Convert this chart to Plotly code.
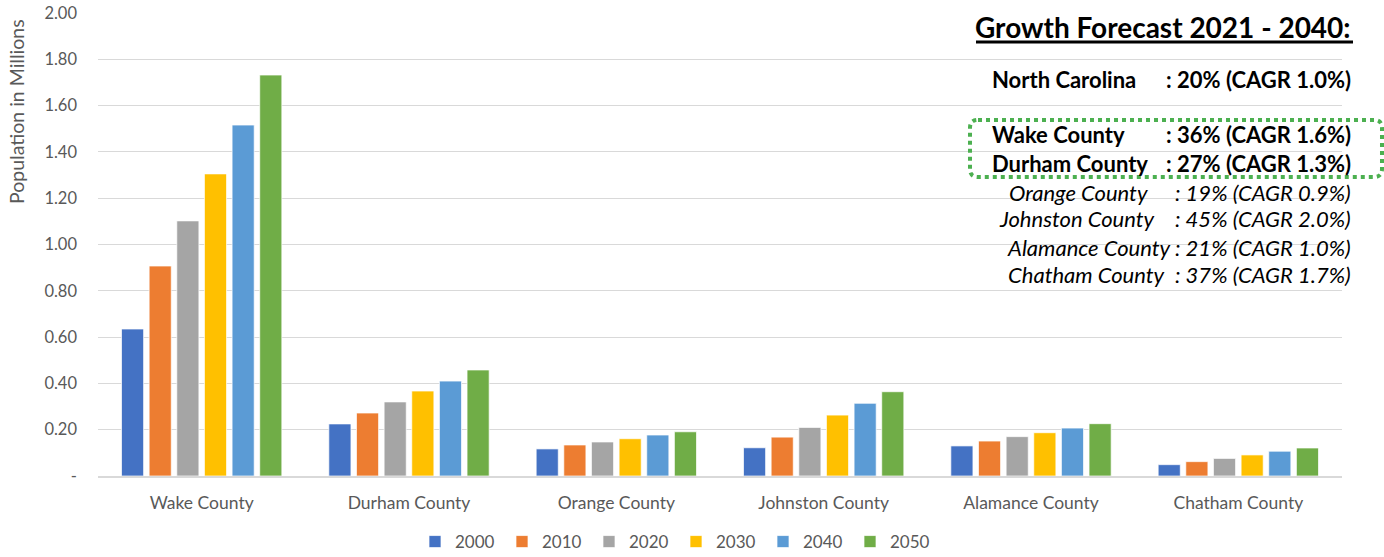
import plotly.graph_objects as go

counties = ["Wake County", "Durham County", "Orange County", "Johnston County", "Alamance County", "Chatham County"]
years = ["2000", "2010", "2020", "2030", "2040", "2050"]
pop_2000 = [0.635, 0.225, 0.117, 0.122, 0.130, 0.049]
pop_2010 = [0.907, 0.272, 0.134, 0.168, 0.151, 0.062]
pop_2020 = [1.102, 0.320, 0.147, 0.210, 0.170, 0.076]
pop_2030 = [1.305, 0.367, 0.161, 0.263, 0.187, 0.091]
pop_2040 = [1.516, 0.410, 0.177, 0.314, 0.207, 0.107]
pop_2050 = [1.732, 0.458, 0.191, 0.364, 0.226, 0.121]
series = [pop_2000, pop_2010, pop_2020, pop_2030, pop_2040, pop_2050]
colors = ["#4472C4", "#ED7D31", "#A5A5A5", "#FFC000", "#5B9BD5", "#70AD47"]

y_tickvals = [0, 0.2, 0.4, 0.6, 0.8, 1.0, 1.2, 1.4, 1.6, 1.8, 2.0]
y_ticktext = ["-", "0.20", "0.40", "0.60", "0.80", "1.00", "1.20", "1.40", "1.60", "1.80", "2.00"]
y_title = "Population in Millions"

forecast_title = "Growth Forecast 2021 - 2040:"
bold_labels = ["North Carolina", "Wake County", "Durham County"]
bold_values = [": 20% (CAGR 1.0%)", ": 36% (CAGR 1.6%)", ": 27% (CAGR 1.3%)"]
italic_labels = ["Orange County", "Johnston County", "Alamance County", "Chatham County"]
italic_values = [": 19% (CAGR 0.9%)", ": 45% (CAGR 2.0%)", ": 21% (CAGR 1.0%)", ": 37% (CAGR 1.7%)"]

W, H = 1384, 557
ML, MR, MT, MB = 98, 42, 13, 81
PW, PH = W - ML - MR, H - MT - MB


def px(x):
    return (x - ML) / PW


def py(y):
    return (H - MB - y) / PH


FONT = "Lato"
fig = go.Figure()
for yr, vals, col in zip(years, series, colors):
    fig.add_trace(go.Bar(
        x=counties, y=vals, name=yr,
        marker=dict(color=col, line=dict(color="rgba(255,255,255,0.7)", width=1)),
    ))

annotations = []
annotations.append(dict(text="<b>" + forecast_title + "</b>", x=px(1353), y=py(27), xref="paper", yref="paper",
                        xanchor="right", yanchor="middle", showarrow=False,
                        font=dict(family=FONT, size=28, color="#000000")))
bold_y = [80, 134, 163]
for lab, val, yy in zip(bold_labels, bold_values, bold_y):
    annotations.append(dict(text="<b>" + lab + "</b>", x=px(990), y=py(yy), xref="paper", yref="paper",
                            xanchor="left", yanchor="middle", showarrow=False,
                            font=dict(family=FONT, size=22, color="#000000")))
    annotations.append(dict(text="<b>" + val + "</b>", x=px(1353), y=py(yy), xref="paper", yref="paper",
                            xanchor="right", yanchor="middle", showarrow=False,
                            font=dict(family=FONT, size=22, color="#000000")))
italic_y = [192, 219, 247, 274]
italic_end = [1150, 1157, 1173, 1167]
for lab, val, yy, xe in zip(italic_labels, italic_values, italic_y, italic_end):
    annotations.append(dict(text="<i>" + lab + "</i>", x=px(xe), y=py(yy), xref="paper", yref="paper",
                            xanchor="right", yanchor="middle", showarrow=False,
                            font=dict(family=FONT, size=22, color="#000000")))
    annotations.append(dict(text="<i>" + val + "</i>", x=px(1353), y=py(yy), xref="paper", yref="paper",
                            xanchor="right", yanchor="middle", showarrow=False,
                            font=dict(family=FONT, size=22, color="#000000")))
annotations.append(dict(text=y_title, x=px(16), y=py(112), xref="paper", yref="paper",
                        xanchor="center", yanchor="middle", showarrow=False, textangle=-90,
                        font=dict(family=FONT, size=19.5, color="#595959")))

# rounded dotted box
x0, x1, y0, y1, r = 970, 1382, 120, 177, 8
pts = [
    ("M", (x0 + r, y0)), ("L", (x1 - r, y0)), ("Q", (x1, y0), (x1, y0 + r)),
    ("L", (x1, y1 - r)), ("Q", (x1, y1), (x1 - r, y1)), ("L", (x0 + r, y1)),
    ("Q", (x0, y1), (x0, y1 - r)), ("L", (x0, y0 + r)), ("Q", (x0, y0), (x0 + r, y0)),
]
path = ""
for item in pts:
    cmd = item[0]
    coords = " ".join(f"{px(a):.5f},{py(b):.5f}" for a, b in item[1:])
    path += f"{cmd} {coords} "
path += "Z"

shapes = [
    dict(type="path", path=path, xref="paper", yref="paper",
         line=dict(color="#4CB050", width=4, dash="dot")),
    dict(type="line", x0=px(976), x1=px(1353), y0=py(42), y1=py(42), xref="paper", yref="paper",
         line=dict(color="#000000", width=3)),
]

fig.update_layout(
    width=W, height=H,
    margin=dict(l=ML, r=MR, t=MT, b=MB, autoexpand=False),
    paper_bgcolor="white", plot_bgcolor="white",
    barmode="group", bargap=0.2, bargroupgap=0.2,
    font=dict(family=FONT, color="#595959"),
    showlegend=True,
    legend=dict(orientation="h", x=(676 - ML) / PW, xanchor="center", y=py(542), yanchor="middle",
                font=dict(family=FONT, size=17, color="#595959"), itemwidth=30,
                entrywidth=42, traceorder="normal"),
    annotations=annotations, shapes=shapes,
    xaxis=dict(showgrid=False, showline=True, linecolor="#D9D9D9", linewidth=1.5,
               tickfont=dict(family=FONT, size=17.5, color="#595959"), ticks="", ticklabelstandoff=10),
    yaxis=dict(range=[0, 2.0], tickvals=y_tickvals, ticktext=y_ticktext, showgrid=True,
               gridcolor="#D9D9D9", gridwidth=1, zeroline=False, showline=False, ticks="",
               tickfont=dict(family=FONT, size=16.5, color="#595959"), ticklabelstandoff=20),
)

fig.write_html("out.html")
